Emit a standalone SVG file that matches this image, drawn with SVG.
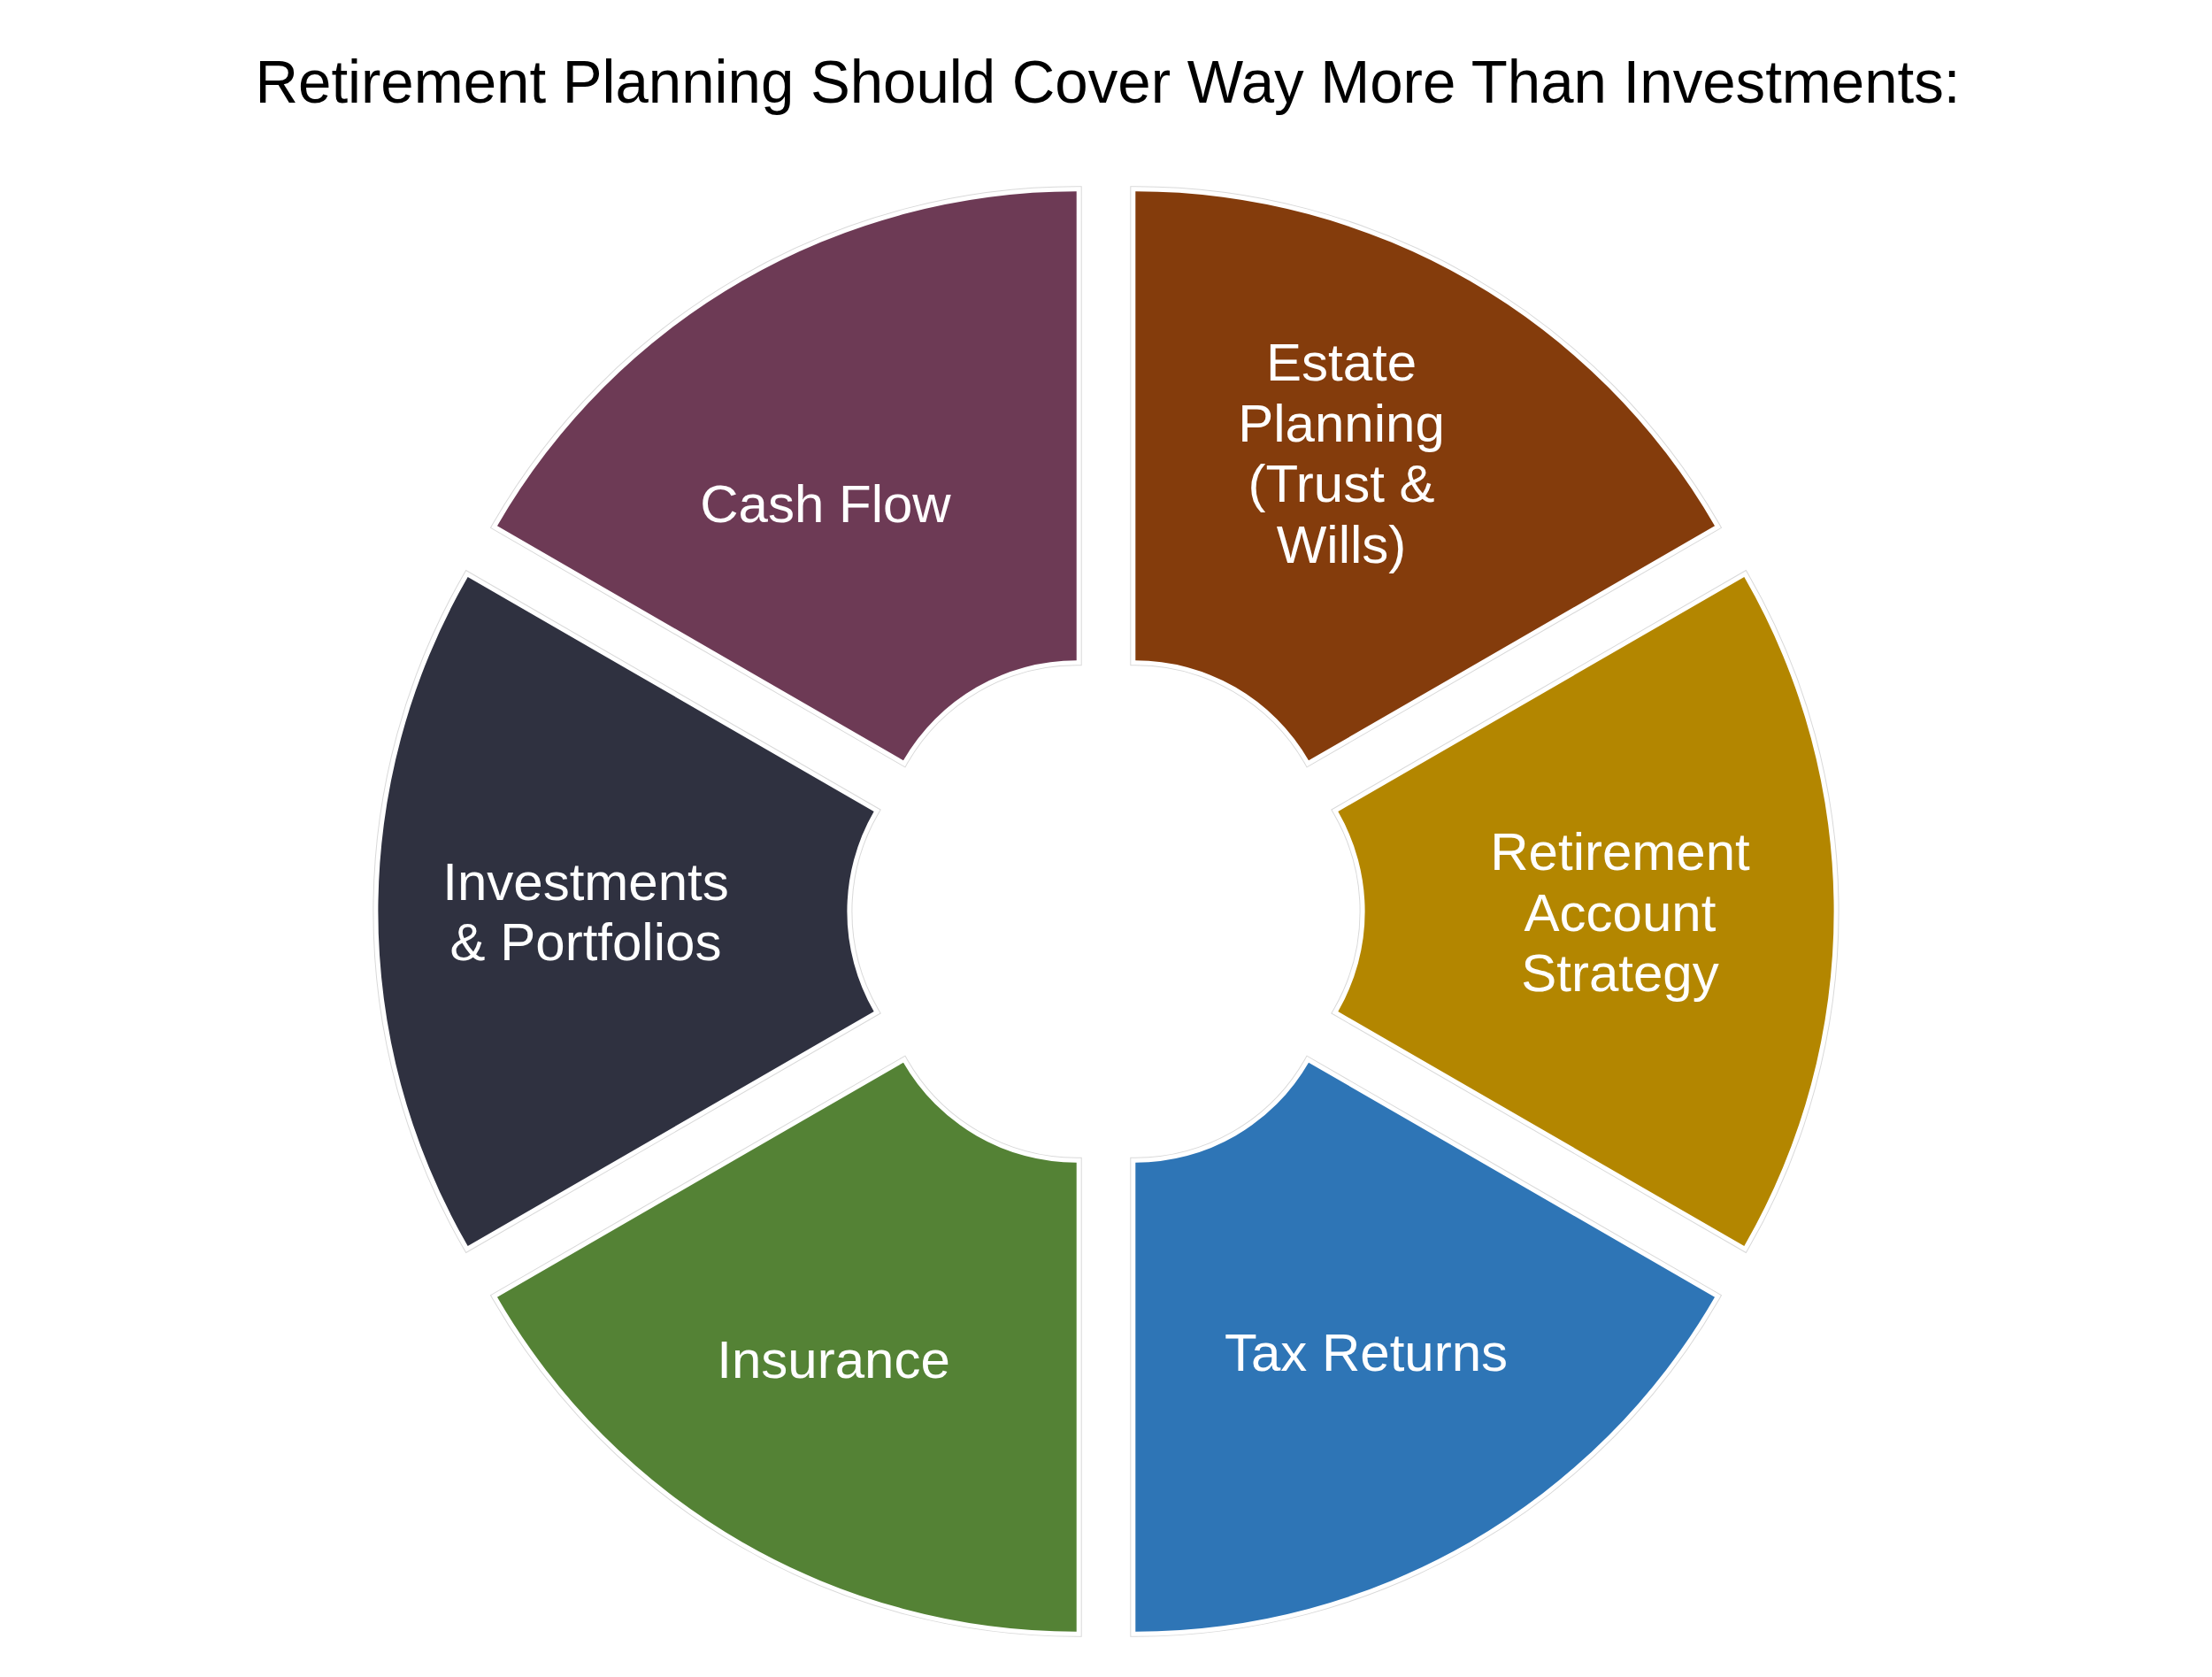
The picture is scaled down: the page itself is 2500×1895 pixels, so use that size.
<svg xmlns="http://www.w3.org/2000/svg" xmlns:xlink="http://www.w3.org/1999/xlink" width="2500" height="1895" viewBox="0 0 2500 1895">
<style>
.outline{fill:none;stroke:#d9d9d9;stroke-width:12}
.seg{stroke:#ffffff;stroke-width:10;paint-order:stroke}
.title{font-family:"Liberation Sans",Arial,sans-serif;font-size:68px;fill:#000000;text-anchor:middle}
.lbl{font-family:"Liberation Sans",Arial,sans-serif;font-size:60px;fill:#ffffff;text-anchor:middle}
</style>
<defs>
<path id="seg" d="M 33.3 -283.676 L 33.3 -813.676 A 756 756 0 0 1 688.015 -435.676 L 229.022 -170.676 A 226 226 0 0 0 33.3 -283.676 Z"/>
</defs>
<rect x="0" y="0" width="2500" height="1895" fill="#ffffff"/>
<text class="title" x="1252" y="116" textLength="1927" lengthAdjust="spacingAndGlyphs">Retirement Planning Should Cover Way More Than Investments:</text>
<g id="connectors"></g>
<g id="estate-planning">
<use href="#seg" xlink:href="#seg" class="outline" transform="translate(1250 1030) rotate(0)"/>
<use href="#seg" xlink:href="#seg" class="seg" fill="#843C0C" transform="translate(1250 1030) rotate(0)"/>
<text class="lbl" x="1516" y="430">Estate</text>
<text class="lbl" x="1516" y="499">Planning</text>
<text class="lbl" x="1516" y="567">(Trust &amp;</text>
<text class="lbl" x="1516" y="636">Wills)</text>
</g>
<g id="retirement-account-strategy">
<use href="#seg" xlink:href="#seg" class="outline" transform="translate(1250 1030) rotate(60)"/>
<use href="#seg" xlink:href="#seg" class="seg" fill="#B38600" transform="translate(1250 1030) rotate(60)"/>
<text class="lbl" x="1831" y="983">Retirement</text>
<text class="lbl" x="1831" y="1052">Account</text>
<text class="lbl" x="1831" y="1120">Strategy</text>
</g>
<g id="tax-returns">
<use href="#seg" xlink:href="#seg" class="outline" transform="translate(1250 1030) rotate(120)"/>
<use href="#seg" xlink:href="#seg" class="seg" fill="#2E75B6" transform="translate(1250 1030) rotate(120)"/>
<text class="lbl" x="1544" y="1549">Tax Returns</text>
</g>
<g id="insurance">
<use href="#seg" xlink:href="#seg" class="outline" transform="translate(1250 1030) rotate(180)"/>
<use href="#seg" xlink:href="#seg" class="seg" fill="#548235" transform="translate(1250 1030) rotate(180)"/>
<text class="lbl" x="942" y="1557">Insurance</text>
</g>
<g id="investments-portfolios">
<use href="#seg" xlink:href="#seg" class="outline" transform="translate(1250 1030) rotate(240)"/>
<use href="#seg" xlink:href="#seg" class="seg" fill="#2F3140" transform="translate(1250 1030) rotate(240)"/>
<text class="lbl" x="662" y="1017">Investments</text>
<text class="lbl" x="662" y="1085">&amp; Portfolios</text>
</g>
<g id="cash-flow">
<use href="#seg" xlink:href="#seg" class="outline" transform="translate(1250 1030) rotate(300)"/>
<use href="#seg" xlink:href="#seg" class="seg" fill="#6D3A55" transform="translate(1250 1030) rotate(300)"/>
<text class="lbl" x="933" y="590">Cash Flow</text>
</g>
</svg>
